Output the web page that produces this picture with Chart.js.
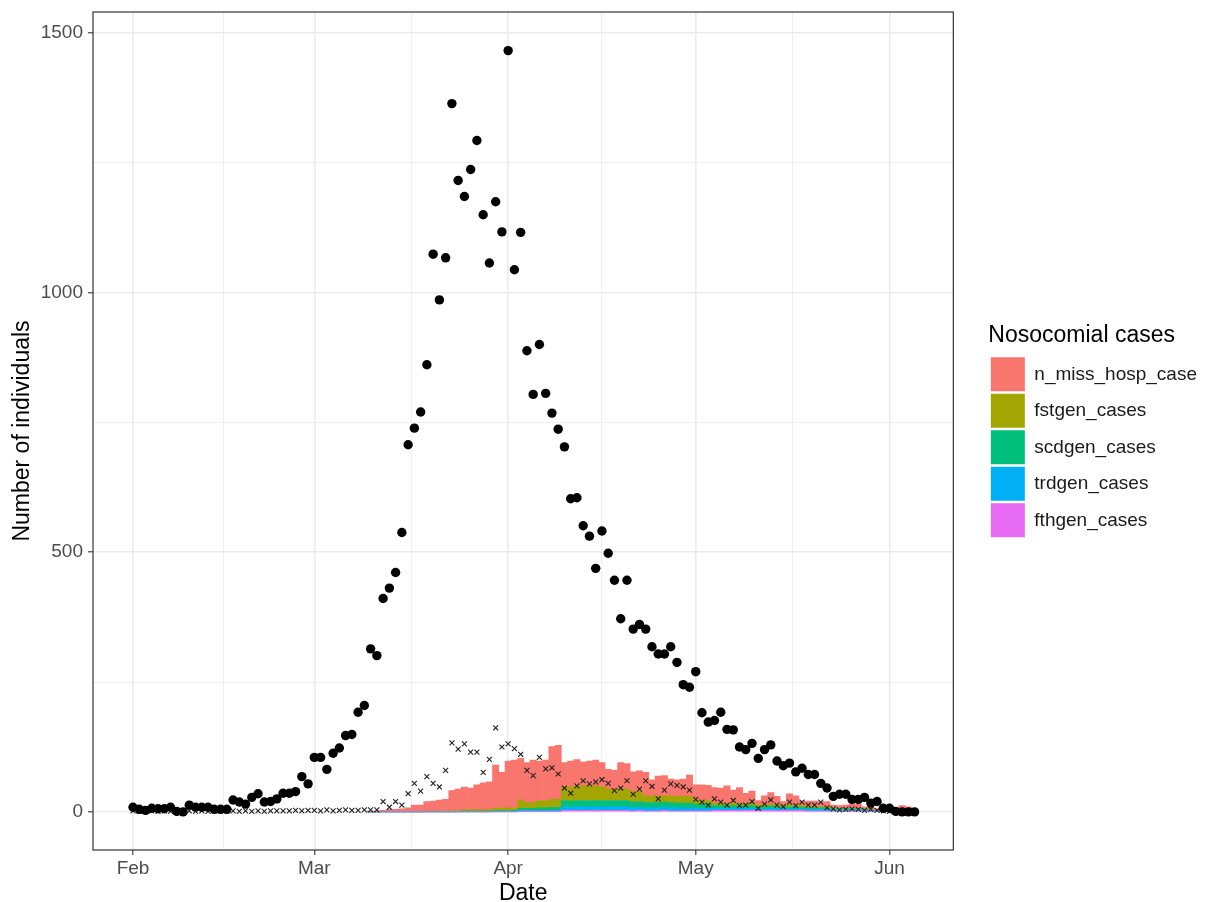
<!DOCTYPE html>
<html>
<head>
<meta charset="utf-8">
<script src="https://cdn.jsdelivr.net/npm/chart.js@4.4.1/dist/chart.umd.min.js"></script>
<style>
  html, body { margin: 0; padding: 0; background: #fff; }
  #wrap { width: 1208px; height: 902px; }
</style>
</head>
<body>
<div id="wrap"><canvas id="chart" width="1208" height="902"></canvas></div>
<script>
// x = days since 1 Feb 2020
const monthTicks = [0, 29, 60, 90, 121];
const monthLabels = ['Feb', 'Mar', 'Apr', 'May', 'Jun'];
const minorDayTicks = [14.5, 44.5, 75, 105.5];
const yMajorTicks = [0, 500, 1000, 1500];
const yMinorTicks = [250, 750, 1250];

// black dots, one per day (day 0 .. 125)
const dailyCases = [
  9, 5, 3, 7, 6, 6, 9, 1, 0, 13,
  9, 9, 9, 5, 5, 5, 23, 19, 15, 28,
  35, 19, 20, 25, 36, 36, 39, 68, 54, 105,
  105, 82, 113, 123, 147, 149, 192, 205, 314, 301,
  411, 431, 461, 538, 707, 739, 770, 861, 1074, 986,
  1067, 1364, 1216, 1185, 1237, 1293, 1150, 1057, 1175, 1117,
  1466, 1044, 1116, 888, 804, 900, 806, 768, 737, 703,
  603, 605, 551, 531, 469, 541, 498, 446, 372, 446,
  352, 361, 352, 318, 304, 304, 318, 288, 245, 240,
  270, 191, 173, 176, 192, 159, 158, 125, 120, 132,
  103, 120, 129, 98, 89, 94, 77, 84, 72, 72,
  55, 46, 30, 34, 34, 24, 24, 28, 17, 20,
  7, 7, 1, 0, 0, 0
];

// small x marks, one per day (day 0 .. 125)
const observedNoso = [
  2, 1, 1, 2, 1, 2, 1, 1, 2, 2,
  1, 2, 1, 2, 2, 2, 2, 1, 2, 1,
  2, 1, 2, 2, 2, 2, 3, 2, 3, 3,
  2, 4, 2, 3, 4, 3, 3, 4, 4, 4,
  20, 9, 20, 13, 35, 55, 40, 68, 55, 48,
  80, 133, 121, 131, 115, 115, 76, 101, 162, 125,
  131, 122, 111, 80, 70, 105, 83, 85, 73, 46,
  36, 50, 60, 54, 58, 62, 55, 41, 46, 60,
  34, 44, 60, 49, 25, 42, 54, 51, 48, 42,
  24, 19, 13, 25, 19, 13, 22, 12, 13, 20,
  7, 15, 23, 13, 10, 19, 12, 19, 13, 13,
  19, 8, 6, 4, 5, 6, 5, 3, 5, 3,
  2, 1, 1, 1, 0, 0
];

// stacked bars, day 38 .. 125
const barStartDay = 38;
const nMissHospCase = [
  1, 2, 3, 5, 5, 6, 8, 13, 13, 19,
  20, 22, 22, 39, 41, 44, 42, 47, 52, 53,
  83, 69, 90, 92, 80, 77, 82, 76, 78, 102,
  104, 47, 50, 51, 46, 48, 50, 46, 38, 36,
  51, 49, 38, 40, 45, 31, 38, 39, 32, 32,
  33, 41, 29, 29, 29, 30, 29, 33, 25, 30,
  19, 23, 8, 17, 22, 16, 7, 21, 18, 9,
  10, 10, 10, 10, 5, 5, 6, 8, 8, 4,
  4, 2, 1, 1, 2, 12, 10, 0
];
const fstgenCases = [
  0, 0, 0, 0, 0, 0, 0, 0, 0, 1,
  1, 1, 2, 2, 3, 3, 3, 4, 3, 4,
  5, 5, 6, 5, 16, 11, 11, 14, 14, 15,
  15, 26, 27, 28, 28, 28, 28, 27, 22, 22,
  22, 22, 20, 19, 13, 13, 13, 12, 13, 13,
  13, 13, 8, 8, 7, 5, 5, 5, 5, 5,
  5, 5, 4, 4, 4, 4, 3, 4, 3, 3,
  3, 3, 2, 2, 2, 1, 1, 1, 1, 1,
  1, 1, 0, 0, 0, 0, 0, 0
];
const scdgenCases = [
  0, 0, 0, 0, 0, 0, 0, 0, 0, 0,
  0, 0, 0, 0, 0, 1, 1, 1, 1, 1,
  1, 1, 1, 2, 4, 4, 4, 5, 5, 6,
  6, 12, 12, 12, 12, 12, 12, 12, 12, 12,
  12, 12, 11, 11, 10, 10, 10, 10, 10, 9,
  9, 9, 8, 8, 8, 5, 5, 5, 5, 5,
  5, 5, 4, 4, 4, 4, 4, 4, 4, 3,
  3, 3, 3, 3, 2, 2, 2, 2, 2, 2,
  1, 1, 1, 1, 0, 0, 0, 0
];
const trdgenCases = [
  0, 0, 0, 0, 0, 0, 0, 0, 0, 0,
  0, 0, 0, 0, 0, 0, 0, 0, 0, 0,
  1, 1, 1, 1, 2, 2, 2, 2, 2, 2,
  2, 7, 6, 7, 7, 7, 7, 7, 7, 7,
  7, 7, 6, 6, 6, 6, 6, 6, 6, 6,
  6, 6, 5, 5, 5, 4, 4, 4, 4, 4,
  4, 4, 3, 3, 4, 3, 3, 3, 3, 3,
  3, 3, 3, 3, 2, 2, 2, 2, 2, 2,
  2, 1, 1, 1, 1, 0, 0, 0
];
const fthgenCases = [
  0, 0, 0, 0, 0, 0, 0, 0, 0, 0,
  0, 0, 0, 0, 0, 0, 0, 0, 0, 0,
  0, 0, 0, 0, 1, 1, 1, 1, 1, 1,
  1, 3, 3, 3, 3, 3, 3, 3, 3, 3,
  3, 3, 2, 3, 2, 2, 2, 3, 2, 2,
  2, 2, 2, 2, 2, 3, 3, 3, 3, 3,
  3, 3, 3, 3, 3, 3, 3, 3, 3, 3,
  2, 2, 2, 2, 2, 2, 2, 2, 2, 1,
  1, 1, 1, 0, 0, 0, 0, 0
];

const FONT = "'Liberation Sans', Arial, sans-serif";

function dayPoints(arr, start) {
  return arr.map((v, i) => ({ x: start + i, y: v }));
}

function barSet(label, arr, color) {
  return {
    label: label,
    data: dayPoints(arr, barStartDay),
    backgroundColor: color,
    borderWidth: 0,
    barPercentage: 1,
    categoryPercentage: 1,
    stack: 'noso',
    order: 2
  };
}

// ggplot-like panel border
const panelBorder = {
  id: 'panelBorder',
  afterDatasetsDraw(chart) {
    const { ctx, chartArea: a } = chart;
    ctx.save();
    ctx.strokeStyle = '#333333';
    ctx.lineWidth = 1.2;
    ctx.strokeRect(a.left, a.top, a.right - a.left, a.bottom - a.top);
    ctx.restore();
  }
};

// lift the legend block a bit above centre and widen its clip box
const legendTweak = {
  id: 'legendTweak',
  afterLayout(chart) {
    const lg = chart.legend;
    if (!lg) return;
    lg.top -= 25;
    lg.bottom -= 25;
    lg.right += 20;
    lg.width += 20;
  }
};

const isMajorX = c => !!c.tick && monthTicks.includes(c.tick.value);
const isMajorY = c => !!c.tick && yMajorTicks.includes(c.tick.value);

new Chart(document.getElementById('chart'), {
  type: 'bar',
  data: {
    datasets: [{
      type: 'scatter',
      label: 'cases',
      data: dayPoints(dailyCases, 0),
      pointRadius: 4.7,
      pointBackgroundColor: '#000',
      pointBorderWidth: 0,
      stack: 'dots',
      order: 0
    }, {
      type: 'scatter',
      label: 'observed',
      data: dayPoints(observedNoso, 0),
      pointStyle: 'crossRot',
      pointRadius: 3.5,
      pointBorderColor: '#222',
      pointBorderWidth: 1.1,
      stack: 'marks',
      order: 1
    },
      barSet('fthgen_cases', fthgenCases, '#E76BF3'),
      barSet('trdgen_cases', trdgenCases, '#00B0F6'),
      barSet('scdgen_cases', scdgenCases, '#00BF7D'),
      barSet('fstgen_cases', fstgenCases, '#A3A500'),
      barSet('n_miss_hosp_case', nMissHospCase, '#F8766D')
    ]
  },
  options: {
    responsive: false,
    animation: false,
    layout: { padding: { top: 12, left: 0, right: 22, bottom: 0 } },
    plugins: {
      tooltip: { enabled: false },
      legend: {
        position: 'right',
        align: 'center',
        reverse: true,
        title: {
          display: true,
          text: 'Nosocomial cases',
          color: '#000',
          position: 'start',
          font: { family: FONT, size: 23 },
          padding: { top: 0, bottom: 3 }
        },
        labels: {
          filter: item => item.datasetIndex >= 2,
          boxWidth: 34,
          boxHeight: 34,
          padding: 2.5,
          color: '#1A1A1A',
          font: { family: FONT, size: 19 }
        }
      }
    },
    scales: {
      x: {
        type: 'linear',
        stacked: true,
        offset: false,
        min: -6.4,
        max: 131.2,
        afterBuildTicks: s => {
          s.ticks = monthTicks.concat(minorDayTicks).sort((a, b) => a - b).map(v => ({ value: v }));
        },
        afterFit: s => { s.height = 52; s.paddingLeft = 0; s.paddingRight = 0; },
        grid: {
          offset: false,
          color: '#EBEBEB',
          lineWidth: c => isMajorX(c) ? 1.6 : 0.8,
          tickColor: c => isMajorX(c) ? '#333333' : 'rgba(0,0,0,0)',
          tickWidth: 1.1,
          tickLength: 5
        },
        border: { display: false },
        ticks: {
          autoSkip: false,
          maxRotation: 0,
          padding: 2,
          color: '#4D4D4D',
          font: { family: FONT, size: 19 },
          callback: v => {
            const i = monthTicks.indexOf(v);
            return i >= 0 ? monthLabels[i] : '';
          }
        },
        title: {
          display: true,
          text: 'Date',
          color: '#000',
          font: { family: FONT, size: 23, lineHeight: 1 },
          padding: { top: 0, bottom: -3 }
        }
      },
      y: {
        stacked: true,
        min: -73.35,
        max: 1540.35,
        afterBuildTicks: s => {
          s.ticks = yMajorTicks.concat(yMinorTicks).sort((a, b) => a - b).map(v => ({ value: v }));
        },
        afterFit: s => { s.width = 93; s.paddingTop = 0; s.paddingBottom = 0; },
        grid: {
          color: '#EBEBEB',
          lineWidth: c => isMajorY(c) ? 1.6 : 0.8,
          tickColor: c => isMajorY(c) ? '#333333' : 'rgba(0,0,0,0)',
          tickWidth: 1.1,
          tickLength: 5
        },
        border: { display: false },
        ticks: {
          autoSkip: false,
          padding: 5,
          color: '#4D4D4D',
          font: { family: FONT, size: 19 },
          callback: v => yMajorTicks.includes(v) ? String(v) : ''
        },
        title: {
          display: true,
          text: 'Number of individuals',
          color: '#000',
          font: { family: FONT, size: 23 },
          padding: { top: 9, bottom: 0 }
        }
      },
      gap: {
        type: 'linear',
        axis: 'y',
        position: 'right',
        display: true,
        grid: { display: false, drawTicks: false },
        border: { display: false },
        ticks: { display: false },
        afterFit: s => { s.width = 35; }
      }
    }
  },
  plugins: [panelBorder, legendTweak]
});
</script>
</body>
</html>
